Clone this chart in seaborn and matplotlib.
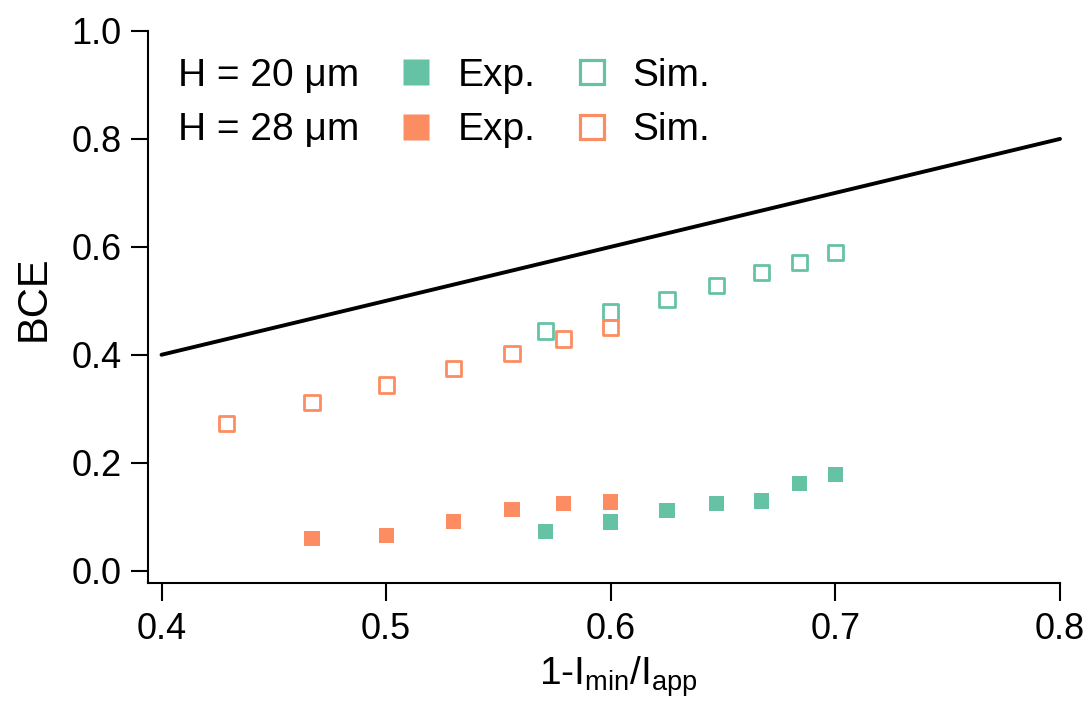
import matplotlib
matplotlib.use("Agg")
import matplotlib.pyplot as plt
from matplotlib.lines import Line2D
import numpy as np
import pandas as pd
import seaborn as sns

# --- data -------------------------------------------------------------
x_h20 = [0.571, 0.600, 0.625, 0.647, 0.667, 0.684, 0.700]
sim_h20 = [0.444, 0.479, 0.503, 0.529, 0.552, 0.571, 0.589]
exp_h20 = [0.073, 0.090, 0.111, 0.124, 0.129, 0.161, 0.178]

x_sim_h28 = [0.429, 0.467, 0.500, 0.530, 0.556, 0.579, 0.600]
sim_h28 = [0.273, 0.311, 0.344, 0.375, 0.403, 0.429, 0.451]
x_exp_h28 = [0.467, 0.500, 0.530, 0.556, 0.579, 0.600]
exp_h28 = [0.059, 0.065, 0.091, 0.113, 0.124, 0.127]

# upper bound BCE = 1 - Imin/Iapp
x_bound = [0.4, 0.8]
y_bound = [0.4, 0.8]

x_ticks = [0.4, 0.5, 0.6, 0.7, 0.8]
y_ticks = [0.0, 0.2, 0.4, 0.6, 0.8, 1.0]

green = "#66c2a5"
orange = "#fc8d62"

# --- style ------------------------------------------------------------
sns.set_theme(style="white")
plt.rcParams["font.family"] = ["Liberation Sans", "DejaVu Sans"]
plt.rcParams["text.color"] = "black"
plt.rcParams["mathtext.fontset"] = "custom"
plt.rcParams["mathtext.rm"] = "Liberation Sans"
plt.rcParams["mathtext.it"] = "Liberation Sans:italic"
plt.rcParams["mathtext.bf"] = "Liberation Sans:bold"

fig = plt.figure(figsize=(10.91, 7.06), dpi=100)
ax = fig.add_axes([0.1357, 0.1742, 0.8359, 0.7819])

sns.lineplot(x=x_bound, y=y_bound, color="black", linewidth=2.8, ax=ax,
             clip_on=False)

ms = 11
sns.scatterplot(x=x_h20, y=sim_h20, marker="s", s=ms ** 2, facecolor="none",
                edgecolor=green, linewidth=2.0, ax=ax, zorder=3)
sns.scatterplot(x=x_sim_h28, y=sim_h28, marker="s", s=ms ** 2, facecolor="none",
                edgecolor=orange, linewidth=2.0, ax=ax, zorder=3)
sns.scatterplot(x=x_h20, y=exp_h20, marker="s", s=ms ** 2, color=green,
                edgecolor="none", linewidth=0, ax=ax, zorder=3)
sns.scatterplot(x=x_exp_h28, y=exp_h28, marker="s", s=ms ** 2, color=orange,
                edgecolor="none", linewidth=0, ax=ax, zorder=3)

# --- axes -------------------------------------------------------------
ax.set_xlim(0.394, 0.8)
ax.set_ylim(-0.023, 1.0)
ax.set_xticks(x_ticks)
ax.set_yticks(y_ticks)
ax.set_xticklabels([f"{v:.1f}" for v in x_ticks])
ax.set_yticklabels([f"{v:.1f}" for v in y_ticks])
for side in ("top", "right"):
    ax.spines[side].set_visible(False)
for side in ("left", "bottom"):
    ax.spines[side].set_linewidth(1.5)
    ax.spines[side].set_color("black")
ax.tick_params(axis="both", which="major", direction="out", width=1.5,
               color="black", labelsize=26, labelcolor="black")
ax.tick_params(axis="y", length=12, pad=7, left=True)
ax.tick_params(axis="x", length=13, pad=8, bottom=True)
ax.grid(False)

ax.set_ylabel("BCE", fontsize=30, color="black")
ax.yaxis.set_label_coords(-0.104, 0.516)
ax.set_xlabel(r"1-I$_{\mathrm{min}}$/I$_{\mathrm{app}}$", fontsize=28,
              color="black")
ax.xaxis.set_label_coords(0.516, -0.13)

# --- legend -----------------------------------------------------------
blank = Line2D([], [], linestyle="none", marker=None)
handles = [
    blank, blank,
    Line2D([], [], linestyle="none", marker="s", markersize=19,
           markerfacecolor=green, markeredgecolor="none"),
    Line2D([], [], linestyle="none", marker="s", markersize=19,
           markerfacecolor=orange, markeredgecolor="none"),
    Line2D([], [], linestyle="none", marker="s", markersize=17,
           markerfacecolor="none", markeredgecolor=green, markeredgewidth=2.3),
    Line2D([], [], linestyle="none", marker="s", markersize=17,
           markerfacecolor="none", markeredgecolor=orange, markeredgewidth=2.3),
]
labels = ["H = 20 μm", "H = 28 μm", "Exp.", "Exp.", "Sim.", "Sim."]
fig.legend(handles, labels, ncol=3, loc="upper left",
           bbox_to_anchor=(118 / 1091, 1 - 58 / 706),
           bbox_transform=fig.transFigure, frameon=False, fontsize=28,
           labelcolor="black",
           handlelength=1.0, handletextpad=0.55, columnspacing=0.96,
           labelspacing=0.47, borderpad=0, borderaxespad=0)

fig.savefig("out.png", dpi=100, facecolor="white")
